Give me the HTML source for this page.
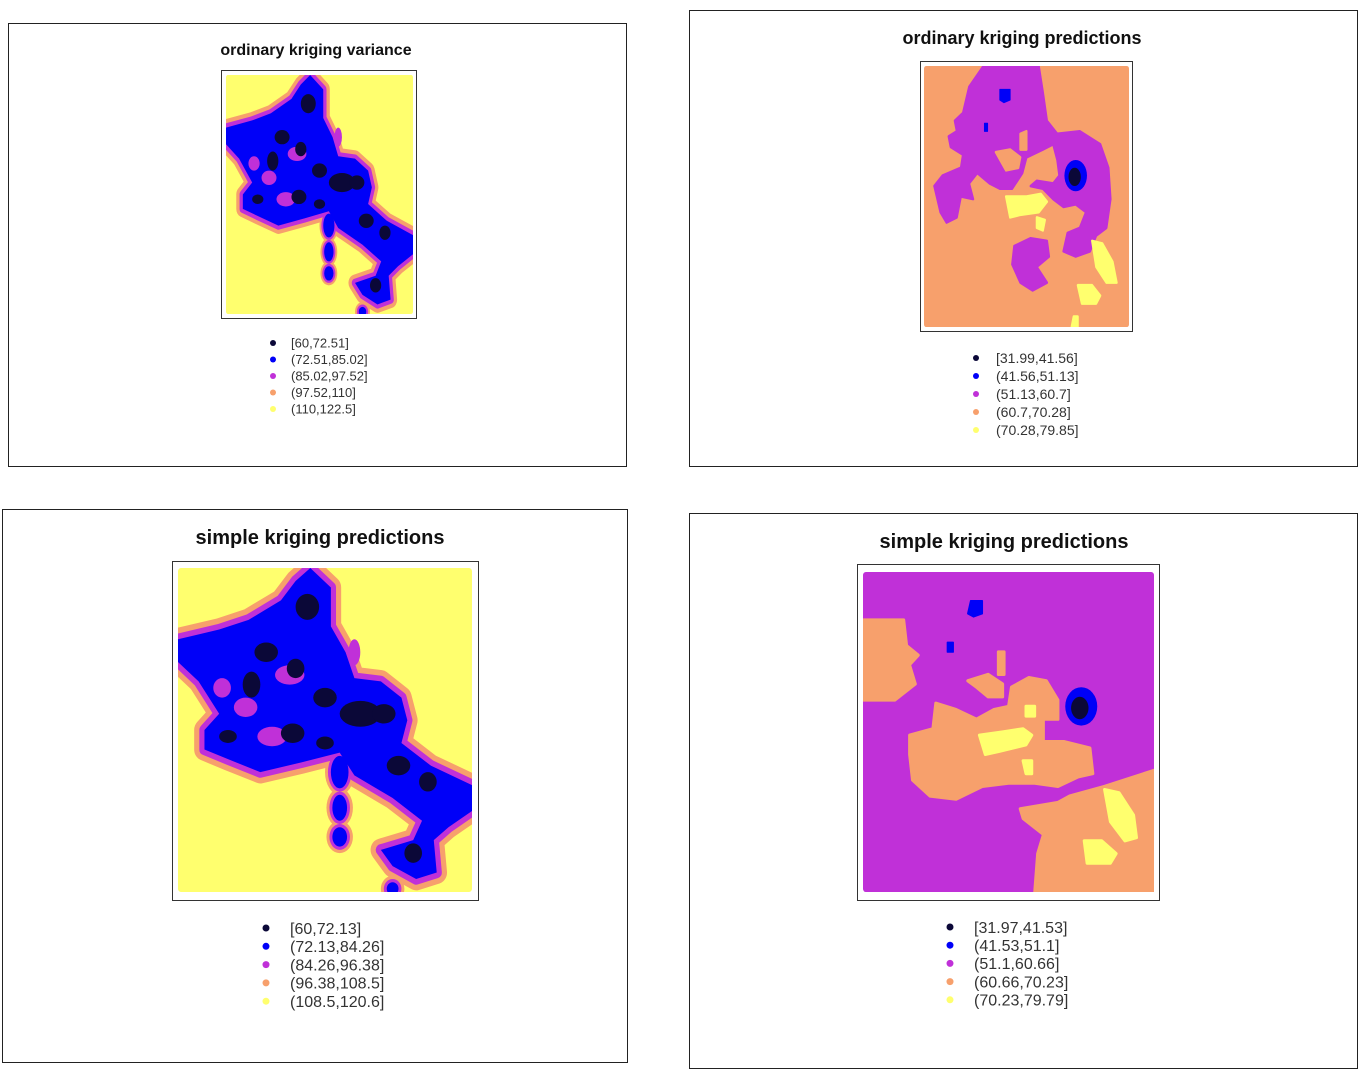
<!DOCTYPE html>
<html><head><meta charset="utf-8">
<style>
body{margin:0;background:#fff;width:1368px;height:1070px;position:relative;overflow:hidden;font-family:"Liberation Sans",sans-serif}
svg{position:absolute;left:0;top:0}
</style></head>
<body>
<svg id="c" width="1368" height="1070"></svg>
<script>
const colDark="#0b0838",colBlue="#0000f8",colPurple="#c030d8",colSalmon="#f7a06c",colYellow="#ffff6e";
const legendColors=[colDark,colBlue,colPurple,colSalmon,colYellow];
const legend1=["[60,72.51]","(72.51,85.02]","(85.02,97.52]","(97.52,110]","(110,122.5]"];
const legend2=["[31.99,41.56]","(41.56,51.13]","(51.13,60.7]","(60.7,70.28]","(70.28,79.85]"];
const legend3=["[60,72.13]","(72.13,84.26]","(84.26,96.38]","(96.38,108.5]","(108.5,120.6]"];
const legend4=["[31.97,41.53]","(41.53,51.1]","(51.1,60.66]","(60.66,70.23]","(70.23,79.79]"];
const NS="http://www.w3.org/2000/svg";
const root=document.getElementById('c');
function mk(tag,attrs,parent){const e=document.createElementNS(NS,tag);for(const k in attrs)e.setAttribute(k,attrs[k]);(parent||root).appendChild(e);return e;}
function pts(a){let s=[];for(let i=0;i<a.length;i+=2)s.push(a[i]+","+a[i+1]);return s.join(" ");}

// variance map shape (normalized 0..100)
const varShape=[45,0,52,6,52,18,57,26,60,34,69,35,76,40,78,47,76,54,86,61,100,67,100,75,92,80,87,84,88,94,81,96,73,92,69,87,80,84,83,78,73,71,60,64,55,57,42,60,28,63,17,59,9,56,9,50,14,45,7,35,0,29,0,22,14,19,24,16,35,10,40,4];
const varIslands=[[55,63,3,5],[55,74,2.5,4],[55,83,2.5,3],[73,99,2,2]];
const varDark=[[44,12,4,4],[30,26,4,3],[25,36,3,4],[40,31,3,3],[50,40,4,3],[62,45,7,4],[70,45,4,3],[39,51,4,3],[50,54,3,2],[75,61,4,3],[85,66,3,3],[80,88,3,3],[17,52,3,2]];
const varPurple=[[38,33,5,3],[23,43,4,3],[32,52,5,3],[15,37,3,3],[60,26,2,4]];

// ordinary predictions (salmon bg)
const op_purple=[[29,0,56,0,58,10,60,21,65,26,76,25,86,30,90,39,91,51,89,62,84,65,81,71,74,73,68,71,70,64,76,62,79,56,74,53,68,54,63,51,58,47,52,46,55,44,63,45,66,42,65,36,63,30,58,32,50,35,48,41,43,47,37,47,32,45,26,41,22,45,24,51,18,50,16,58,11,60,8,56,5,46,9,42,18,39,19,34,13,31,12,27,16,25,15,21,19,18,22,8],
 [44,69,52,66,60,67,61,73,55,77,60,83,53,86,47,83,43,76]];
const op_salmon=[[35,33,42,32,47,35,46,39,40,40],[47,26,50,25,50,32,47,32]];
const op_yellow=[[40,50,50,50,57,49,60,52,56,56,47,57,42,58],[82,67,87,68,92,75,94,83,89,83,84,77],[75,84,82,84,86,88,84,91,77,91],[55,58,59,59,58,63,55,62],[73,96,75,96,75,100,72,100]];
const op_blue=[[37,9,42,9,42,13,39,14,37,13],[29.5,22,31,22,31,25,29.5,25]];
const op_ring=[74,42,5.5,6,73.5,42.5,3,3.5];

// simple predictions (purple bg)
const sp_salmon=[[0,15,14,15,15,23,19,26,16,29,18,35,11,40,0,40],
 [16,51,24,49,25,41,32,43,39,46,45,43,50,42,51,36,57,33,63,34,67,40,67,46,62,46,62,53,69,53,78,55,79,63,74,64,67,67,59,66,50,66,41,67,32,71,23,70,17,65,16,57],
 [36,34,43,32,48,35,48,39,43,39,39,36],
 [100,62,83,67,71,70,67,72,54,74,55,77,62,82,60,88,59,100,100,100],
 [46.5,25,48.5,25,48.5,32,46.5,32]];
const sp_yellow=[[40,51,48,50,55,49,58,51,56,54,47,56,42,57],[83,68,88,69,93,76,94,83,90,84,85,78],[76,84,82,84,87,88,85,91,77,91],[55,59,58,59,58,63,56,63],[56,42,59,42,59,45,56,45]];
const sp_blue=[[37,9,41,9,41,13,38,14,36,13],[29,22,31,22,31,25,29,25]];
const sp_ring=[75,42,5.5,6,74.5,42.5,3,3.5];

function mapGroup(name,x,y,w,h,bg){
  const s=mk('svg',{x:x,y:y,width:w,height:h,viewBox:"0 0 100 100",preserveAspectRatio:"none"});
  
  
  mk('rect',{x:0,y:0,width:100,height:100,fill:bg,rx:1},s);
  return s;
}
function poly(g,a,fill,sw,stroke){mk('polygon',{points:pts(a),fill:fill,stroke:stroke||fill,"stroke-width":sw||0,"stroke-linejoin":"round"},g);}
function ell(g,cx,cy,rx,ry,fill,sw,stroke){mk('ellipse',{cx:cx,cy:cy,rx:rx,ry:ry,fill:fill,stroke:stroke||fill,"stroke-width":sw||0},g);}

function varianceMap(name,x,y,w,h){
  const g=mapGroup(name,x,y,w,h,colYellow);
  poly(g,varShape,colSalmon,7);
  varIslands.forEach(d=>ell(g,d[0],d[1],d[2]+2,d[3]+2,colSalmon));
  poly(g,varShape,colPurple,3.5);
  varIslands.forEach(d=>ell(g,d[0],d[1],d[2]+1,d[3]+1,colPurple));
  poly(g,varShape,colBlue,0);
  varIslands.forEach(d=>ell(g,d[0],d[1],d[2],d[3],colBlue));
  varPurple.forEach(d=>ell(g,d[0],d[1],d[2],d[3],colPurple));
  varDark.forEach(d=>ell(g,d[0],d[1],d[2],d[3],colDark));
}
function predMap(name,x,y,w,h,bg,shapesA,colA,shapesB,colB,yellow,blue,ring){
  const g=mapGroup(name,x,y,w,h,bg);
  shapesA.forEach(a=>poly(g,a,colA,1));
  shapesB.forEach(a=>poly(g,a,colB,1));
  yellow.forEach(a=>poly(g,a,colYellow,1));
  blue.forEach(a=>poly(g,a,colBlue,0.5));
  ell(g,ring[0],ring[1],ring[2],ring[3],colBlue);
  ell(g,ring[4],ring[5],ring[6],ring[7],colDark);
}
function panel(p){
  const b=mk('rect',{x:p.bx,y:p.by,width:p.bw,height:p.bh,fill:"#fff",stroke:"#222","stroke-width":1});
  
  
  const t=mk('text',{x:p.tx,y:p.ty,"text-anchor":"middle","font-size":p.tfs,"font-weight":"bold",fill:"#111"});
  t.textContent=p.title;
  
  
  const f=mk('rect',{x:p.fx,y:p.fy,width:p.fw,height:p.fh,fill:"#fff",stroke:"#333","stroke-width":1});
  
  
  p.draw();
  p.labels.forEach((lab,i)=>{
    const y=p.ly+i*p.lstep;
    const c=mk('circle',{cx:p.lx,cy:y,r:p.lr,fill:legendColors[i]});
    
    
    const tx=mk('text',{x:p.ltx,y:y+p.lfs*0.36,"font-size":p.lfs,fill:"#333"});
    tx.textContent=lab;
    
    
  });
}
panel({name:"ok-variance",bx:8.5,by:23.5,bw:618,bh:443,title:"ordinary kriging variance",tx:316,ty:55,tfs:16,
  fx:221.5,fy:70.5,fw:195,fh:248,draw:()=>varianceMap("ok-variance-map",226,75,187,239),
  labels:legend1,lx:273,ly:343,lstep:16.5,lr:3,ltx:291,lfs:13});
panel({name:"ok-predictions",bx:689.5,by:10.5,bw:668,bh:456,title:"ordinary kriging predictions",tx:1022,ty:44,tfs:18,
  fx:920.5,fy:61.5,fw:212,fh:270,draw:()=>predMap("ok-predictions-map",924,66,205,261,colSalmon,op_purple,colPurple,op_salmon,colSalmon,op_yellow,op_blue,op_ring),
  labels:legend2,lx:976,ly:358,lstep:18,lr:3,ltx:996,lfs:14});
panel({name:"sk-variance",bx:2.5,by:509.5,bw:625,bh:553,title:"simple kriging predictions",tx:320,ty:544,tfs:20,
  fx:172.5,fy:561.5,fw:306,fh:339,draw:()=>varianceMap("sk-variance-map",178,568,294,324),
  labels:legend3,lx:266,ly:928,lstep:18.3,lr:3.5,ltx:290,lfs:16});
panel({name:"sk-predictions",bx:689.5,by:513.5,bw:668,bh:555,title:"simple kriging predictions",tx:1004,ty:548,tfs:20,
  fx:857.5,fy:564.5,fw:302,fh:336,draw:()=>predMap("sk-predictions-map",863,572,291,320,colPurple,sp_salmon,colSalmon,[],colSalmon,sp_yellow,sp_blue,sp_ring),
  labels:legend4,lx:950,ly:927,lstep:18.2,lr:3.5,ltx:974,lfs:16});
</script>
</body></html>
